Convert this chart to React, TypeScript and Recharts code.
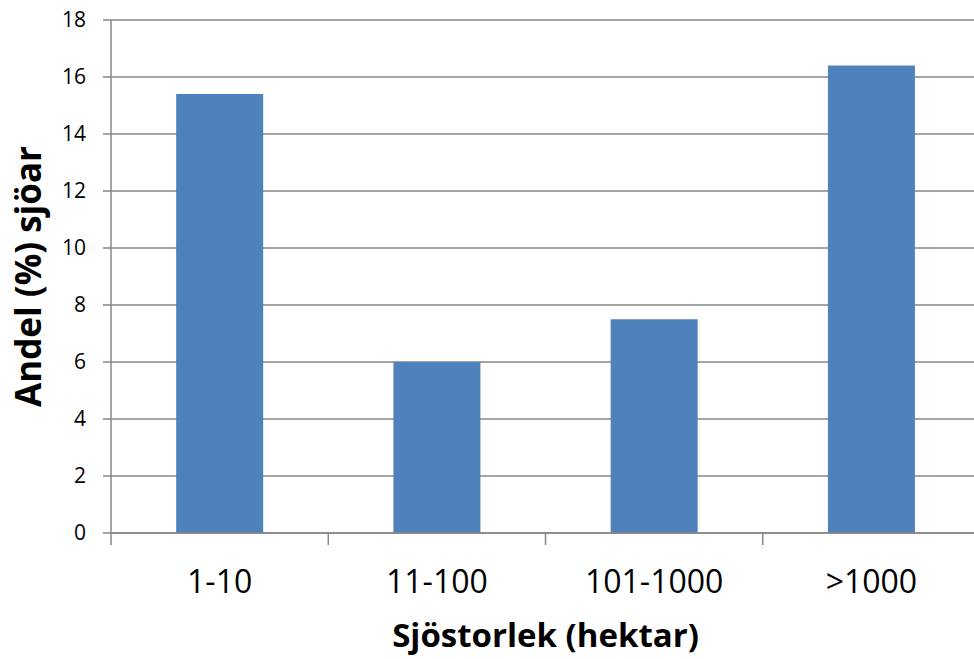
import { BarChart, Bar, XAxis, YAxis, CartesianGrid } from 'recharts'

const sizeClasses = ['1-10', '11-100', '101-1000', '>1000']
const lakeShare = [15.4, 6.0, 7.5, 16.4]
const yTicks = [0, 2, 4, 6, 8, 10, 12, 14, 16, 18]

const BAR_BLUE = '#4F81BD'
const LINE_GRAY = '#878787'
const FONT = '"Open Sans", Lato, sans-serif'
const LABEL_GAP = 37
const TICK_LEN = 12

const data = sizeClasses.map((name, i) => ({ name, share: lakeShare[i] }))

// Excel style: tick marks sit between categories, label in the middle
function CategoryTick(props: any) {
  const { x, y, payload, index, visibleTicksCount } = props
  const half = payload.offset ?? 0
  const axisY = y - LABEL_GAP
  const isLast = index === visibleTicksCount - 1
  return (
    <g>
      <line x1={x - half} x2={x - half} y1={axisY} y2={axisY + TICK_LEN} stroke={LINE_GRAY} strokeWidth={1.5} />
      {isLast && (
        <line x1={x + half} x2={x + half} y1={axisY} y2={axisY + TICK_LEN} stroke={LINE_GRAY} strokeWidth={1.5} />
      )}
      <text x={x} y={y} dy="0.71em" textAnchor="middle" fontSize={32} fill="#000" fontFamily={FONT}>
        {payload.value}
      </text>
    </g>
  )
}

export default function App() {
  return (
    <div
      style={{
        position: 'fixed',
        left: 0,
        top: 0,
        width: 974,
        height: 659,
        overflow: 'hidden',
        background: '#fff',
        fontFamily: FONT,
      }}
    >
      <BarChart
        width={980}
        height={659}
        data={data}
        margin={{ top: 20, right: 0, left: 0, bottom: 0 }}
        barCategoryGap="30%"
      >
        <CartesianGrid vertical={false} stroke={LINE_GRAY} strokeWidth={1.5} />
        <XAxis
          dataKey="name"
          height={126}
          interval={0}
          axisLine={{ stroke: LINE_GRAY, strokeWidth: 1.5 }}
          tickLine={false}
          tickSize={0}
          tickMargin={LABEL_GAP}
          tick={<CategoryTick />}
          label={{
            value: 'Sjöstorlek (hektar)',
            position: 'insideBottom',
            offset: 12,
            style: { fontSize: 33, fontWeight: 700, fill: '#000', fontFamily: FONT },
          }}
        />
        <YAxis
          domain={[0, 18]}
          ticks={yTicks}
          width={111}
          tickSize={8}
          tickMargin={17}
          axisLine={{ stroke: LINE_GRAY, strokeWidth: 1.5 }}
          tickLine={{ stroke: LINE_GRAY, strokeWidth: 1.5 }}
          tick={{ fontSize: 21, fill: '#000', fontFamily: FONT }}
          label={{
            value: 'Andel (%) sjöar',
            angle: -90,
            position: 'insideLeft',
            offset: 29,
            style: { textAnchor: 'middle', fontSize: 35, fontWeight: 700, fill: '#000', fontFamily: FONT },
          }}
        />
        <Bar dataKey="share" fill={BAR_BLUE} isAnimationActive={false} />
      </BarChart>
    </div>
  )
}
